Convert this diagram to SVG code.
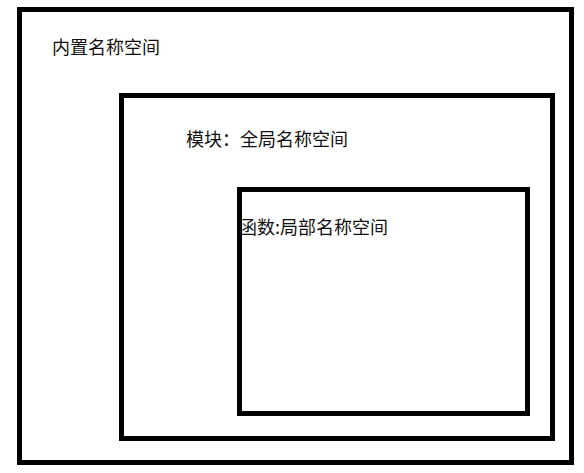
<svg xmlns="http://www.w3.org/2000/svg" width="584" height="473" viewBox="0 0 584 473">
<style>
.box{fill:none;stroke:#000;stroke-width:5}
.lbl{font-family:"Noto Sans CJK SC","Noto Sans",sans-serif;font-size:18px;fill:#111}
</style>
<rect width="584" height="473" fill="#fff"/>
<g id="builtin">
<rect class="box" x="19.5" y="9.5" width="552" height="453"/>
<text class="lbl" x="52" y="54">内置名称空间</text>
</g>
<g id="global">
<rect class="box" x="121.5" y="95.5" width="431" height="343"/>
<text class="lbl" x="186" y="146">模块：全局名称空间</text>
</g>
<g id="local">
<rect class="box" x="239.5" y="189.5" width="288" height="224"/>
<text class="lbl" x="239" y="234">函数:局部名称空间</text>
</g>
<g id="connectors"></g>
</svg>
